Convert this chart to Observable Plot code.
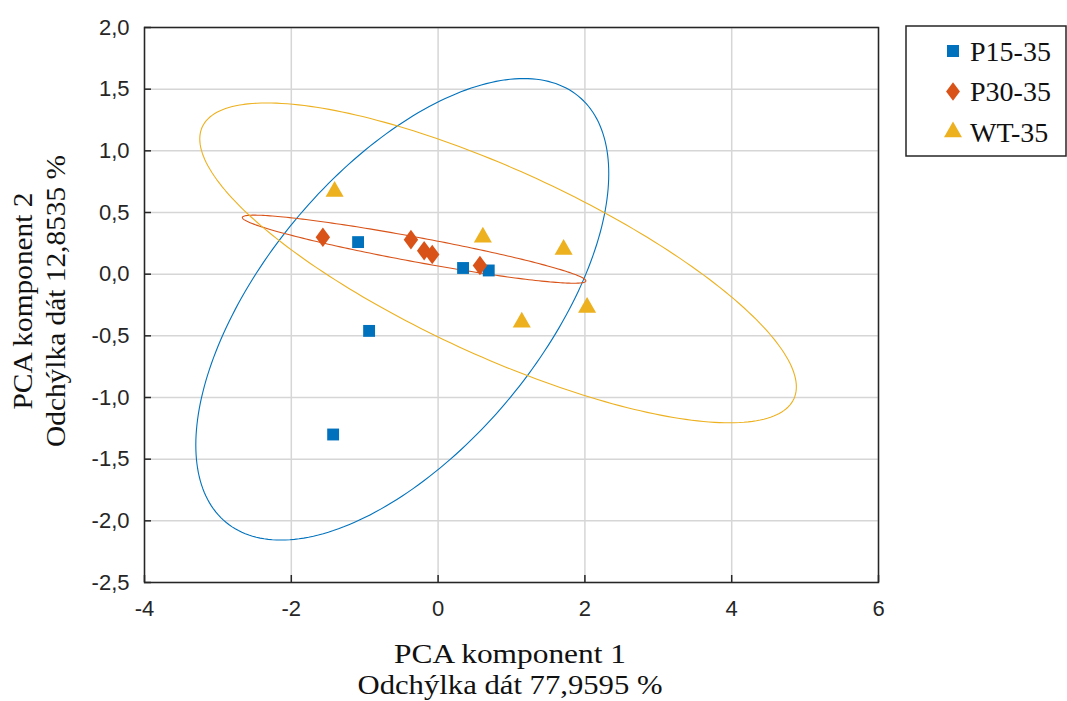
<!DOCTYPE html>
<html>
<head>
<meta charset="utf-8">
<script src="https://cdn.jsdelivr.net/npm/d3@7"></script>
<script src="https://cdn.jsdelivr.net/npm/@observablehq/plot@0.6"></script>
<style>
  body { margin: 0; background: white; }
</style>
</head>
<body>
<div id="chart"></div>
<script>
const groups = ["P15-35", "P30-35", "WT-35"];
const colors = ["#0072BD", "#D95319", "#EDB120"];

// skóre PCA odčítané z grafu
const p15X = [-1.09, -0.94, -1.43, 0.34, 0.69];
const p15Y = [0.26, -0.46, -1.30, 0.05, 0.03];
const p30X = [-1.57, -0.37, -0.19, -0.08, 0.57];
const p30Y = [0.30, 0.28, 0.19, 0.16, 0.07];
const wtX = [-1.41, 0.61, 1.71, 1.14, 2.03];
const wtY = [0.67, 0.30, 0.20, -0.39, -0.27];

// elipsy: stred, polovičný rozsah v x a y, fáza (cos)
const ellCx = [-0.488, -0.327, 0.817];
const ellCy = [-0.285, 0.2025, 0.0915];
const ellA = [2.813, 2.340, 4.064];
const ellB = [1.871, 0.276, 1.2965];
const ellCos = [0.588, -0.93, -0.775];

const xTicks = [-4, -2, 0, 2, 4, 6];
const yTicks = [-2.5, -2, -1.5, -1, -0.5, 0, 0.5, 1, 1.5, 2];

// širší kosoštvorec ako v pôvodnom grafe
const wideDiamond = {
  draw(context, size) {
    const h = Math.sqrt(size / 0.37) / 2;
    const w = h * 0.74;
    context.moveTo(0, -h);
    context.lineTo(w, 0);
    context.lineTo(0, h);
    context.lineTo(-w, 0);
    context.closePath();
  }
};
const symbolTypes = [d3.symbolSquare, wideDiamond, d3.symbolTriangle];

const points = [];
[[p15X, p15Y], [p30X, p30Y], [wtX, wtY]].forEach(([xs, ys], i) => {
  xs.forEach((x, j) => points.push({group: groups[i], x, y: ys[j]}));
});

const ellipses = [];
groups.forEach((g, i) => {
  const phi = Math.acos(ellCos[i]);
  for (let k = 0; k <= 240; k++) {
    const t = (k / 240) * 2 * Math.PI;
    ellipses.push({group: g, x: ellCx[i] + ellA[i] * Math.cos(t), y: ellCy[i] + ellB[i] * Math.cos(t - phi)});
  }
});

const fmtY = d => d.toFixed(1).replace(".", ",");
const fmtX = d => String(d);

const chart = Plot.plot({
  width: 1067,
  height: 701,
  marginLeft: 144,
  marginRight: 189,
  marginTop: 27,
  marginBottom: 119,
  style: { fontFamily: "Liberation Sans, Arial, sans-serif", fontSize: 22, background: "white", color: "#262626" },
  x: { domain: [-4, 6] },
  y: { domain: [-2.5, 2] },
  color: { domain: groups, range: colors },
  symbol: { domain: groups, range: symbolTypes },
  marks: [
    Plot.gridX(xTicks, { stroke: "#d6d6d6", strokeOpacity: 1, strokeWidth: 1.5 }),
    Plot.gridY(yTicks, { stroke: "#d6d6d6", strokeOpacity: 1, strokeWidth: 1.5 }),
    Plot.line(ellipses, { x: "x", y: "y", z: "group", stroke: "group", strokeWidth: 1.1, curve: "linear" }),
    Plot.dot(points, { x: "x", y: "y", fill: "group", symbol: "group", r: 6.7 }),
    Plot.frame({ stroke: "#262626", strokeWidth: 1.5 }),
    Plot.axisX(xTicks, { tickSize: 7, dy: -7, text: null, label: null, stroke: "#262626", strokeWidth: 1.5 }),
    Plot.axisY(yTicks, { tickSize: 7, dx: 7, text: null, label: null, stroke: "#262626", strokeWidth: 1.5 }),
    Plot.axisX(xTicks, { tickSize: 0, tickPadding: 18, label: null, tickFormat: fmtX, fill: "#262626" }),
    Plot.axisY(yTicks, { tickSize: 0, tickPadding: 15, label: null, tickFormat: fmtY, fill: "#262626" })
  ]
});

const svg = d3.select(chart);
const serif = "Liberation Serif, Times New Roman, serif";

// názvy osí
const xt = svg.append("g").attr("font-family", serif).attr("font-size", 28).attr("fill", "#111").attr("text-anchor", "middle");
xt.append("text").attr("x", 510).attr("y", 663).attr("textLength", 232).attr("lengthAdjust", "spacingAndGlyphs").text("PCA komponent 1");
xt.append("text").attr("x", 510).attr("y", 694).attr("textLength", 305).attr("lengthAdjust", "spacingAndGlyphs").text("Odchýlka dát 77,9595 %");

const yt = svg.append("g").attr("font-family", serif).attr("font-size", 28).attr("fill", "#111").attr("text-anchor", "middle")
  .attr("transform", "translate(0,301) rotate(-90)");
yt.append("text").attr("x", 0).attr("y", 32).attr("textLength", 217).attr("lengthAdjust", "spacingAndGlyphs").text("PCA komponent 2");
yt.append("text").attr("x", 0).attr("y", 65).attr("textLength", 292).attr("lengthAdjust", "spacingAndGlyphs").text("Odchýlka dát 12,8535 %");

// legenda
const lg = svg.append("g");
lg.append("rect").attr("x", 906).attr("y", 26).attr("width", 160).attr("height", 130)
  .attr("fill", "white").attr("stroke", "#262626").attr("stroke-width", 1.5);
const symSize = [144, 130, 140];
groups.forEach((g, i) => {
  const cy = 51 + i * 40.5;
  lg.append("path").attr("d", d3.symbol(symbolTypes[i], symSize[i])())
    .attr("transform", `translate(953,${cy})`).attr("fill", colors[i]);
  lg.append("text").attr("x", 970).attr("y", cy).attr("dy", "0.35em").attr("text-anchor", "start")
    .attr("font-family", serif).attr("font-size", 28).attr("fill", "#111").text(g);
});

document.getElementById("chart").append(chart);
</script>
</body>
</html>
